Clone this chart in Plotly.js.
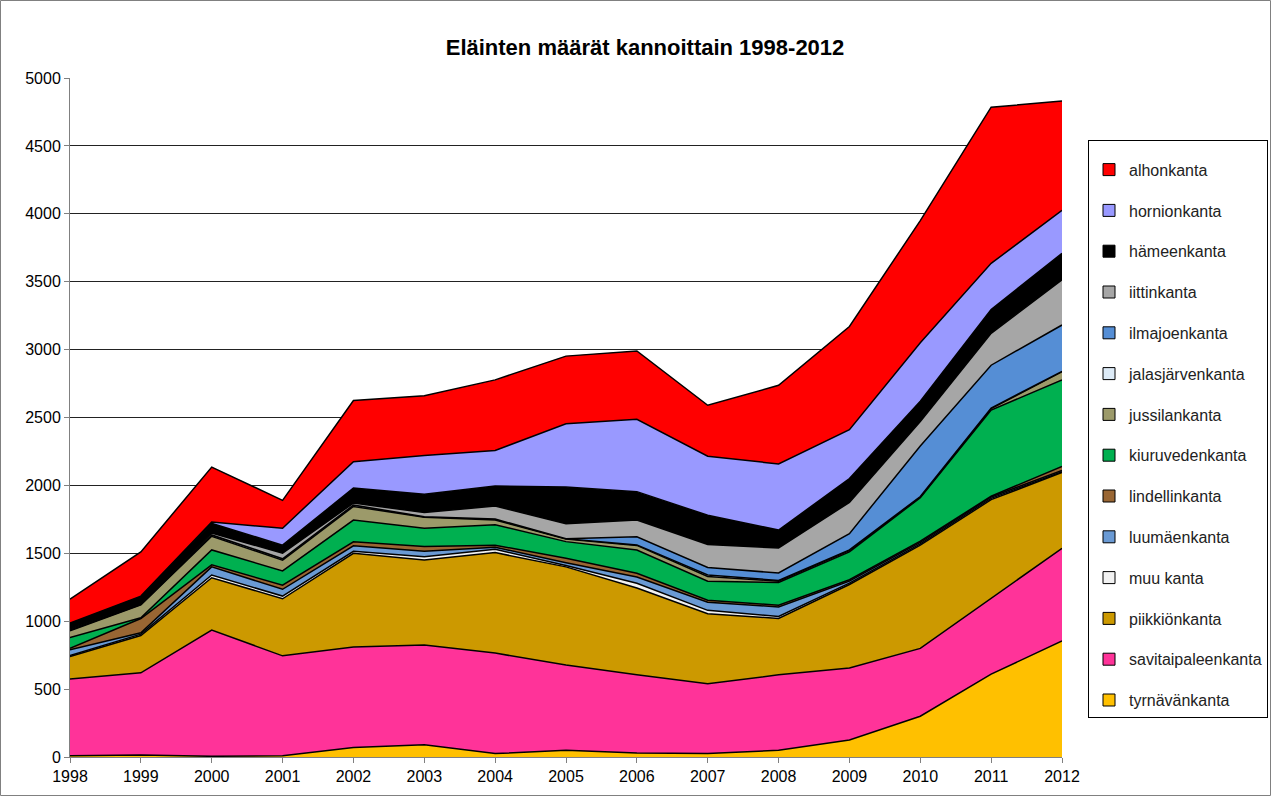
<!DOCTYPE html>
<html>
<head>
<meta charset="utf-8">
<script src="https://cdn.plot.ly/plotly-3.0.1.min.js"></script>
<style>
html,body{margin:0;padding:0;background:#fff;}
#chart{width:1271px;height:796px;}
</style>
</head>
<body>
<div id="chart"></div>
<script>
const years = [1998,1999,2000,2001,2002,2003,2004,2005,2006,2007,2008,2009,2010,2011,2012];

const tyrnavankanta      = [10,15,5,10,70,90,25,50,30,25,50,125,300,610,855];
const savitaipaleenkanta = [565,605,930,735,740,735,740,627,575,515,555,530,500,560,682];
const piikkionkanta      = [165,275,385,420,690,625,740,723,640,515,415,615,760,725,558];
const muukanta           = [8,10,20,20,15,25,25,10,35,25,15,10,10,10,5];
const luumaenkanta       = [42,10,60,50,40,40,15,20,45,60,70,15,10,10,10];
const lindellinkanta     = [10,105,15,30,30,35,15,33,28,15,13,10,10,5,30];
const kiuruvedenkanta    = [80,5,110,105,160,135,150,123,171,140,167,205,320,635,636];
const jussilankanta      = [50,95,100,80,100,80,35,19,34,35,10,10,5,10,61];
const jalasjarvenkanta   = [5,5,10,10,10,5,7,3,4,10,5,5,3,5,3];
const ilmajoenkanta      = [0,0,0,0,0,0,0,0,60,55,55,120,372,315,341];
const iittinkanta        = [7,5,15,40,15,30,96,110,123,170,184,230,180,235,332];
const hameenkanta        = [45,55,70,60,110,135,147,270,209,215,132,175,150,175,196];
const hornionkanta       = [0,0,10,125,195,285,262,466,533,435,487,360,430,340,316];
const alhonkanta         = [175,325,405,205,450,440,520,498,503,375,579,760,900,1150,805];

const seriesNames = ["tyrnävänkanta","savitaipaleenkanta","piikkiönkanta","muu kanta","luumäenkanta","lindellinkanta","kiuruvedenkanta","jussilankanta","jalasjärvenkanta","ilmajoenkanta","iittinkanta","hämeenkanta","hornionkanta","alhonkanta"];
const seriesValues = [tyrnavankanta,savitaipaleenkanta,piikkionkanta,muukanta,luumaenkanta,lindellinkanta,kiuruvedenkanta,jussilankanta,jalasjarvenkanta,ilmajoenkanta,iittinkanta,hameenkanta,hornionkanta,alhonkanta];
const seriesColors = ["#FFC000","#FF3399","#CC9900","#F2F2F2","#6A9AD4","#996633","#00B050","#9C9A6A","#DDEBF7","#558ED5","#A6A6A6","#000000","#9999FF","#FF0000"];

const yTicks = [0,500,1000,1500,2000,2500,3000,3500,4000,4500,5000];

const areaTraces = seriesNames.map((name,i)=>({
  type:'scatter',
  mode:'lines',
  x: years,
  y: seriesValues[i],
  name: name,
  stackgroup: 'one',
  showlegend: false,
  line: {color:'#000000', width:1.5},
  fillcolor: seriesColors[i],
  hoverinfo: 'skip'
}));

// legend-only swatch entries (top series first, as in the reference legend)
const legendTraces = [];
for (let i = seriesNames.length - 1; i >= 0; i--) {
  legendTraces.push({
    type:'bar',
    x:[null], y:[null],
    name: seriesNames[i],
    legendgroup: 'g'+i,
    legendrank: seriesNames.length - i,
    marker:{color: seriesColors[i], line:{color:'#000000', width:1}},
    showlegend:true,
    hoverinfo:'skip'
  });
}

const W = 1271, H = 796, ML = 70, MR = 209, MT = 78, MB = 39;
const PW = W - ML - MR, PH = H - MT - MB;

const layout = {
  width:W, height:H,
  paper_bgcolor:'#ffffff', plot_bgcolor:'#ffffff',
  margin:{l:ML, r:MR, t:MT, b:MB, autoexpand:false},
  title:{text:'<b>Eläinten määrät kannoittain 1998-2012</b>', font:{family:'Arial, Liberation Sans, sans-serif', size:22, color:'#000'}, x:0.5075, xanchor:'center', y:0.941, yanchor:'middle'},
  font:{family:'Arial, Liberation Sans, sans-serif', size:16, color:'#000'},
  xaxis:{range:[1998,2012], tickmode:'array', tickvals:years, ticktext:years.map(String),
         showgrid:false, zeroline:false, showline:true, linecolor:'#808080', linewidth:1,
         ticks:'outside', ticklen:5, tickcolor:'#808080', tickfont:{size:16}, fixedrange:true},
  yaxis:{range:[0,5000], tickmode:'array', tickvals:yTicks, ticktext:yTicks.map(String),
         showgrid:true, gridcolor:'#222222', gridwidth:1, zeroline:false,
         showline:true, linecolor:'#808080', linewidth:1,
         ticks:'outside', ticklen:5, tickcolor:'#808080', tickfont:{size:16}, fixedrange:true},
  showlegend:true,
  legend:{x:(1088-ML)/PW, xanchor:'left', y:(H-MB-140)/PH, yanchor:'top', traceorder:'grouped',
          tracegroupgap:17, bordercolor:'#000', borderwidth:1, bgcolor:'#fff',
          title:{text:' ', font:{size:9}},
          font:{size:16, family:'Arial, Liberation Sans, sans-serif', color:'#222'}, itemwidth:30},
  shapes:[{type:'rect', xref:'paper', yref:'paper',
           x0:(0.5-ML)/PW, x1:(W-0.5-ML)/PW, y0:-(MB-0.5)/PH, y1:1+(MT-0.5)/PH,
           line:{color:'#808080', width:1}, layer:'below'}],
  hovermode:false
};

Plotly.newPlot('chart', areaTraces.concat(legendTraces), layout, {displayModeBar:false, staticPlot:true});
</script>
</body>
</html>
